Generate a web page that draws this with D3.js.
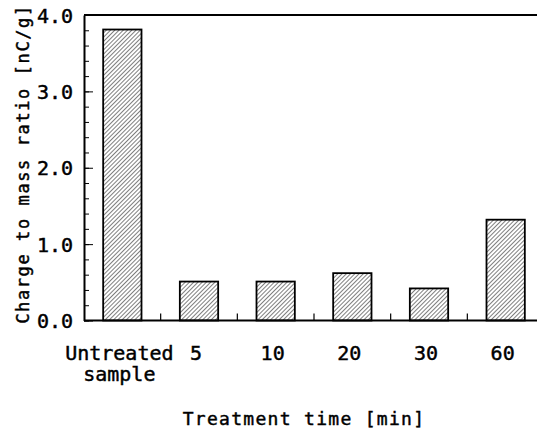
<!DOCTYPE html>
<html>
<head>
<meta charset="utf-8">
<script src="https://cdn.jsdelivr.net/npm/d3@7"></script>
<style>
  body { margin: 0; background: #fff; }
  text { font-family: "DejaVu Sans Mono", monospace; fill: #000; stroke: #000; stroke-width: 0.45px; }
</style>
</head>
<body>
<svg width="537" height="432"></svg>
<script>
// chart data
var categories = ['Untreated sample', '5', '10', '20', '30', '60'];
var chargeRatio = [3.81, 0.51, 0.51, 0.62, 0.42, 1.32];
var yTicks = [0, 1, 2, 3, 4];

var svg = d3.select('svg');

// plot box (runs off the right edge like the original)
var plotL = 84, plotR = 544, plotT = 15, plotB = 320.5;

var x = d3.scaleBand().domain(categories).range([plotL, plotR]).padding(0);
var y = d3.scaleLinear().domain([0, 4]).range([plotB, plotT]);

// hatch fill
var defs = svg.append('defs');
defs.append('pattern')
	.attr('id', 'hatch')
	.attr('patternUnits', 'userSpaceOnUse')
	.attr('width', 3)
	.attr('height', 3)
	.attr('patternTransform', 'rotate(45)')
	.append('line')
	.attr('x1', 0).attr('y1', 0)
	.attr('x2', 0).attr('y2', 3)
	.style('stroke', '#000')
	.style('stroke-width', 1);

// bars
var barW = x.bandwidth() * 0.5;
svg.selectAll('rect.bar')
	.data(chargeRatio)
	.enter()
	.append('rect')
	.attr('class', 'bar')
	.attr('x', function(d, i) {return x(categories[i]) + (x.bandwidth() - barW) / 2;})
	.attr('y', function(d) {return y(d);})
	.attr('width', barW)
	.attr('height', function(d) {return plotB - y(d);})
	.style('fill', 'url(#hatch)')
	.style('stroke', '#000')
	.style('stroke-width', 1.8);

// top border
svg.append('line')
	.attr('x1', plotL).attr('y1', plotT)
	.attr('x2', 537).attr('y2', plotT)
	.style('stroke', '#000')
	.style('stroke-width', 2);

// minor y ticks
var minor = d3.range(0, 4.001, 0.2);
svg.append('g')
	.attr('transform', 'translate(' + plotL + ',0)')
	.call(d3.axisLeft(y).tickValues(minor).tickSize(-5).tickFormat(''))
	.call(function(g) {g.select('.domain').remove();});

// major y ticks + labels
var yAxis = svg.append('g')
	.attr('transform', 'translate(' + plotL + ',0)')
	.call(d3.axisLeft(y).tickValues(yTicks).tickSizeInner(-9).tickSizeOuter(0).tickPadding(11).tickFormat(d3.format('.1f')));
yAxis.select('.domain').style('stroke-width', 2);
yAxis.selectAll('text')
	.style('font-family', '"DejaVu Sans Mono", monospace')
	.style('font-size', '20px')
	.style('stroke', '#000')
	.style('stroke-width', '0.45px')
	.attr('dy', '0.36em');

// x axis: baseline with ticks between bands pointing up
svg.append('line')
	.attr('x1', plotL).attr('y1', plotB)
	.attr('x2', 537).attr('y2', plotB)
	.style('stroke', '#000')
	.style('stroke-width', 2);

svg.selectAll('line.xtick')
	.data(categories.slice(1))
	.enter()
	.append('line')
	.attr('class', 'xtick')
	.attr('x1', function(d) {return x(d);})
	.attr('x2', function(d) {return x(d);})
	.attr('y1', plotB)
	.attr('y2', plotB - 7)
	.style('stroke', '#000')
	.style('stroke-width', 1.2);

// category labels
var lbl = svg.selectAll('text.xlbl')
	.data(categories)
	.enter()
	.append('text')
	.attr('class', 'xlbl')
	.attr('text-anchor', 'middle')
	.attr('x', function(d) {return x(d) + x.bandwidth() / 2 - 3;})
	.attr('y', 360)
	.style('font-size', '20px');
lbl.each(function(d) {
	var parts = d.split(' ');
	var t = d3.select(this);
	parts.forEach(function(p, i) {
		t.append('tspan')
			.attr('x', t.attr('x'))
			.attr('dy', i === 0 ? 0 : 21)
			.text(p);
	});
});

// axis titles
svg.append('text')
	.attr('text-anchor', 'middle')
	.attr('x', 304)
	.attr('y', 425)
	.style('font-size', '18px')
	.style('letter-spacing', '1.3px')
	.text('Treatment time [min]');

svg.append('text')
	.attr('text-anchor', 'middle')
	.attr('transform', 'translate(29,164) rotate(-90)')
	.style('font-size', '17px')
	.style('letter-spacing', '1.6px')
	.text('Charge to mass ratio [nC/g]');
</script>
</body>
</html>
